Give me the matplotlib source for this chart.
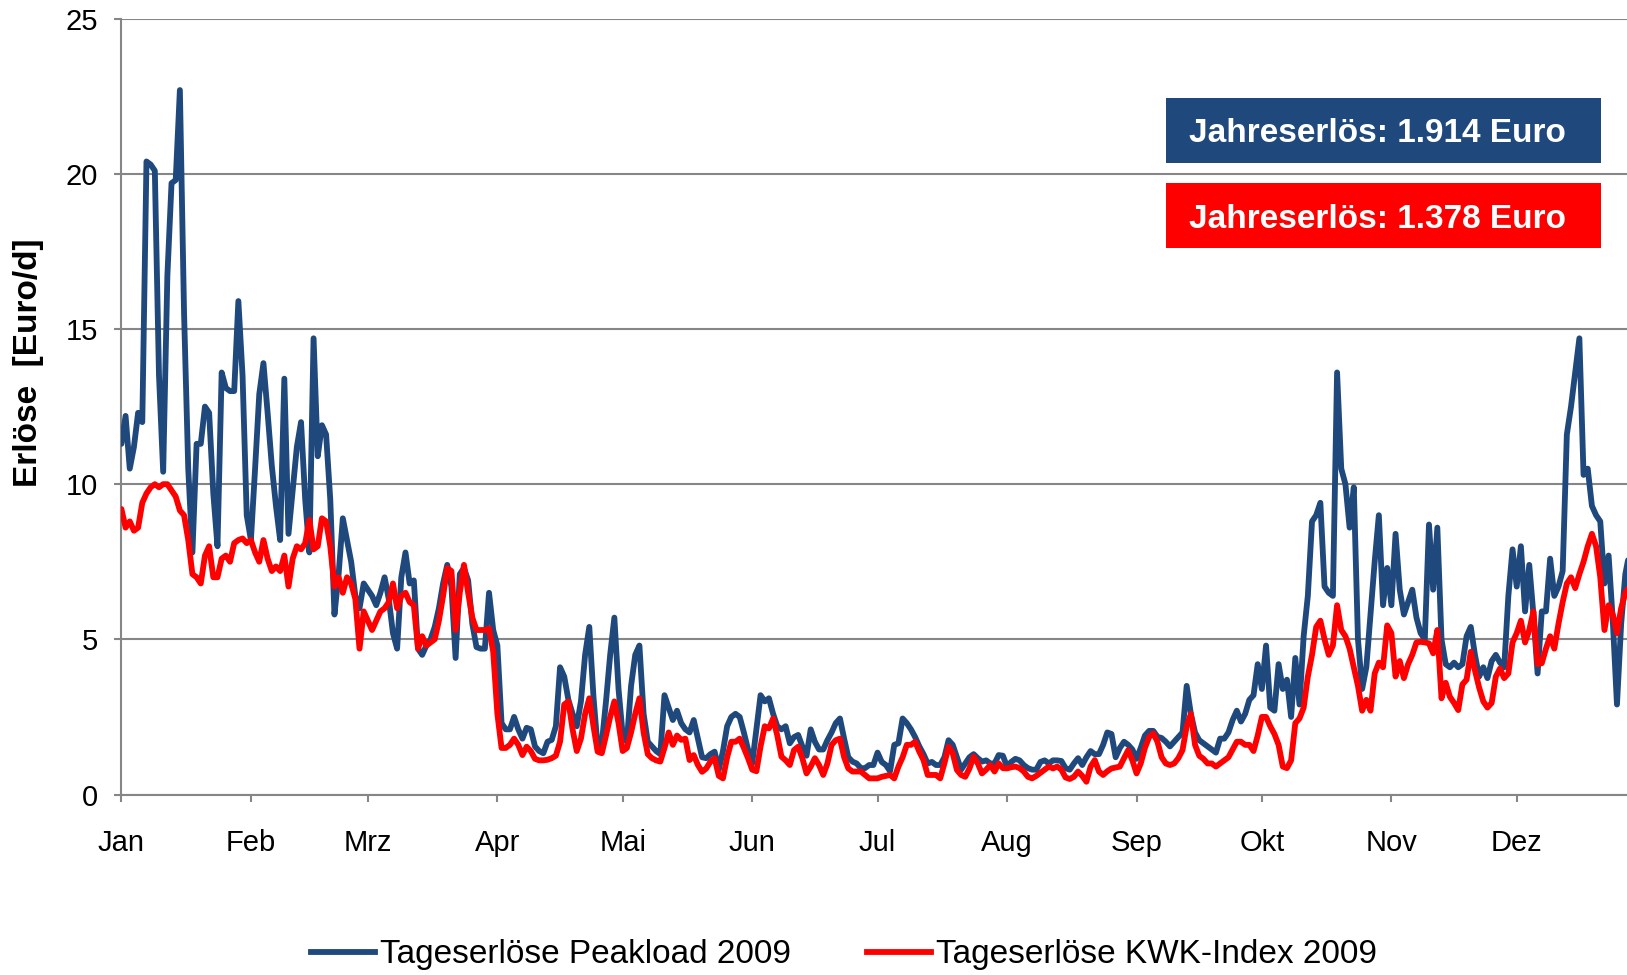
import numpy as np
import pandas as pd
import matplotlib
matplotlib.use("Agg")
import matplotlib.pyplot as plt
import matplotlib.dates as mdates
from matplotlib.patches import Rectangle
from matplotlib.lines import Line2D

start = "2009-01-01"

# Tageserlöse Peakload 2009 (Euro/d), daily from 1 Jan
peakload = [
    11.3, 12.2, 10.5, 11.2, 12.3, 12.0, 20.4, 20.3, 20.1, 13.5,
    10.4, 16.7, 19.7, 19.8, 22.7, 15.5, 10.5, 7.8, 11.3, 11.3,
    12.5, 12.3, 9.7, 8.0, 13.6, 13.1, 13.0, 13.0, 15.9, 13.5,
    9.0, 8.2, 10.5, 12.9, 13.9, 12.3, 10.6, 9.3, 8.2, 13.4,
    8.4, 9.8, 11.2, 12.0, 9.5, 7.8, 14.7, 10.9, 11.9, 11.6,
    9.5, 5.8, 7.1, 8.9, 8.2, 7.5, 6.4, 6.0, 6.8, 6.6,
    6.4, 6.1, 6.5, 7.0, 6.3, 5.2, 4.7, 7.0, 7.8, 6.8,
    6.9, 4.7, 4.5, 4.8, 5.0, 5.4, 6.0, 6.8, 7.4, 6.7,
    4.4, 7.1, 7.3, 6.9, 5.5, 4.75, 4.7, 4.7, 6.5, 5.3,
    4.8, 2.3, 2.1, 2.1, 2.5, 2.1, 1.8, 2.15, 2.1, 1.55,
    1.4, 1.33, 1.7, 1.76, 2.2, 4.1, 3.8, 3.05, 2.6, 2.2,
    3.0, 4.5, 5.4, 3.15, 1.5, 1.65, 3.0, 4.5, 5.7, 3.4,
    1.9, 1.7, 3.5, 4.5, 4.8, 2.6, 1.7, 1.55, 1.4, 1.3,
    3.2, 2.8, 2.4, 2.7, 2.3, 2.1, 2.0, 2.4, 1.8, 1.2,
    1.17, 1.3, 1.38, 0.8, 1.4, 2.2, 2.5, 2.6, 2.5, 2.0,
    1.45, 1.0, 2.1, 3.2, 3.0, 3.1, 2.6, 2.2, 2.1, 2.2,
    1.65, 1.85, 1.92, 1.55, 1.25, 2.1, 1.7, 1.45, 1.45, 1.75,
    2.0, 2.3, 2.45, 1.8, 1.2, 1.06, 1.0, 0.85, 0.85, 0.95,
    0.95, 1.35, 1.05, 0.95, 0.75, 1.6, 1.65, 2.45, 2.3, 2.1,
    1.85, 1.55, 1.3, 1.0, 1.05, 0.95, 0.95, 1.2, 1.75, 1.6,
    1.2, 0.8, 1.0, 1.2, 1.3, 1.17, 1.06, 1.1, 1.0, 1.0,
    1.27, 1.25, 0.9, 1.05, 1.15, 1.1, 0.95, 0.85, 0.8, 0.8,
    1.05, 1.1, 1.0, 1.1, 1.1, 1.08, 0.85, 0.8, 1.0, 1.17,
    0.95, 1.2, 1.4, 1.3, 1.3, 1.6, 2.0, 1.95, 1.2, 1.5,
    1.7, 1.6, 1.45, 1.15, 1.5, 1.9, 2.05, 2.05, 1.86, 1.82,
    1.7, 1.55, 1.7, 1.85, 2.0, 3.5, 2.6, 2.0, 1.75, 1.65,
    1.55, 1.45, 1.35, 1.8, 1.8, 2.0, 2.4, 2.7, 2.35, 2.6,
    3.05, 3.2, 4.2, 3.4, 4.8, 2.8, 2.7, 4.2, 3.4, 3.7,
    2.5, 4.4, 2.9, 5.1, 6.4, 8.8, 9.0, 9.4, 6.7, 6.5,
    6.4, 13.6, 10.5, 10.0, 8.6, 9.9, 5.0, 3.4, 4.1, 5.8,
    7.5, 9.0, 6.1, 7.3, 6.1, 8.4, 6.6, 5.8, 6.2, 6.6,
    5.7, 5.2, 5.0, 8.7, 6.6, 8.6, 5.0, 4.2, 4.1, 4.25,
    4.1, 4.2, 5.1, 5.4, 4.5, 3.8, 4.1, 3.75, 4.3, 4.5,
    4.25, 4.1, 6.4, 7.9, 6.7, 8.0, 5.9, 7.4, 5.8, 3.9,
    5.9, 5.9, 7.6, 6.4, 6.7, 7.2, 11.6, 12.5, 13.6, 14.7,
    10.3, 10.5, 9.3, 9.0, 8.8, 6.8, 7.7, 5.6, 2.9, 5.5,
    7.1, 7.8,
]

# Tageserlöse KWK-Index 2009 (Euro/d), daily from 1 Jan
kwk_index = [
    9.2, 8.6, 8.8, 8.5, 8.6, 9.4, 9.7, 9.9, 10.0, 9.9,
    10.0, 10.0, 9.8, 9.6, 9.15, 9.0, 8.2, 7.1, 7.0, 6.8,
    7.7, 8.0, 7.0, 7.0, 7.6, 7.7, 7.5, 8.1, 8.2, 8.25,
    8.1, 8.2, 7.8, 7.5, 8.2, 7.6, 7.2, 7.35, 7.2, 7.7,
    6.7, 7.6, 8.0, 7.9, 8.1, 8.85, 7.9, 8.0, 8.9, 8.8,
    8.0, 6.7, 7.0, 6.5, 7.0, 6.8, 6.3, 4.7, 5.9, 5.6,
    5.3, 5.6, 5.9, 6.0, 6.2, 6.8, 6.0, 6.4, 6.5, 6.2,
    6.1, 4.7, 5.1, 4.8, 4.9, 5.0, 5.6, 6.4, 7.3, 7.2,
    5.3, 6.5, 7.4, 6.5, 5.7, 5.3, 5.3, 5.3, 5.35, 4.6,
    2.6, 1.5, 1.5, 1.6, 1.8, 1.6, 1.27, 1.54, 1.4, 1.15,
    1.1, 1.1, 1.12, 1.17, 1.25, 1.7, 2.9, 3.0, 2.1, 1.4,
    1.8, 2.6, 3.1, 2.2, 1.38, 1.33, 1.9, 2.5, 3.0, 2.3,
    1.4, 1.5, 2.0, 2.6, 3.1, 2.0, 1.3, 1.17, 1.1, 1.06,
    1.5, 2.0, 1.6, 1.9, 1.76, 1.8, 1.11, 1.27, 0.95, 0.73,
    0.84, 1.06, 1.17, 0.6, 0.52, 1.2, 1.7, 1.7, 1.8, 1.5,
    1.17, 0.8, 0.75, 1.55, 2.2, 2.13, 2.45, 1.9, 1.22, 1.1,
    0.95, 1.43, 1.54, 1.17, 0.68, 0.9, 1.17, 0.95, 0.63, 1.0,
    1.6, 1.75, 1.8, 1.2, 0.84, 0.74, 0.74, 0.74, 0.63, 0.52,
    0.52, 0.52, 0.57, 0.6, 0.63, 0.52, 0.9, 1.2, 1.6, 1.6,
    1.7, 1.38, 1.11, 0.63, 0.63, 0.63, 0.52, 1.0, 1.54, 1.33,
    0.79, 0.63, 0.57, 0.84, 1.22, 1.0, 0.68, 0.8, 0.95, 0.74,
    1.0, 0.85, 0.84, 0.88, 0.9, 0.85, 0.74, 0.57, 0.52, 0.6,
    0.7, 0.8, 0.9, 0.84, 0.9, 0.8, 0.55, 0.5, 0.57, 0.74,
    0.6, 0.41, 0.9, 1.11, 0.74, 0.63, 0.75, 0.84, 0.87, 0.9,
    1.17, 1.43, 1.1, 0.68, 1.0, 1.5, 1.85, 1.97, 1.7, 1.2,
    1.0, 0.95, 1.0, 1.17, 1.43, 2.2, 2.6, 1.6, 1.25, 1.15,
    1.0, 1.0, 0.9, 1.0, 1.1, 1.2, 1.45, 1.7, 1.7, 1.6,
    1.6, 1.4, 1.9, 2.5, 2.5, 2.2, 1.95, 1.6, 0.9, 0.85,
    1.1, 2.3, 2.45, 2.8, 3.8, 4.5, 5.4, 5.6, 5.0, 4.5,
    4.8, 6.1, 5.3, 5.1, 4.7, 4.1, 3.5, 2.7, 3.05, 2.7,
    3.9, 4.25, 4.1, 5.45, 5.2, 3.8, 4.3, 3.75, 4.2, 4.5,
    4.9, 4.92, 4.9, 4.87, 4.55, 5.3, 3.1, 3.6, 3.15, 2.95,
    2.72, 3.55, 3.7, 4.6, 4.0, 3.45, 3.0, 2.8, 2.95, 3.8,
    4.06, 3.75, 3.9, 4.9, 5.2, 5.6, 4.9, 5.3, 5.9, 4.2,
    4.23, 4.7, 5.1, 4.7, 5.5, 6.2, 6.8, 7.0, 6.65, 7.1,
    7.5, 8.0, 8.4, 8.0, 7.0, 5.3, 6.1, 5.8, 5.2, 6.0,
    6.5, 6.7,
]

month_labels = ["Jan", "Feb", "Mrz", "Apr", "Mai", "Jun",
                "Jul", "Aug", "Sep", "Okt", "Nov", "Dez"]
y_ticks = [0, 5, 10, 15, 20, 25]
series_labels = ["Tageserlöse Peakload 2009", "Tageserlöse KWK-Index 2009"]
box_texts = ["Jahreserlös: 1.914 Euro", "Jahreserlös: 1.378 Euro"]
y_label = "Erlöse  [Euro/d]"

BLUE = "#1F497D"
RED = "#FF0000"
GRID = "#868686"

plt.rcParams["font.family"] = ["Liberation Sans", "DejaVu Sans"]

W, H = 1627, 975
fig = plt.figure(figsize=(W / 100, H / 100), dpi=100)
ax = fig.add_axes([121.4 / W, 1 - 794.5 / H, 1 - 121.4 / W, (794.5 - 18.7) / H])

dates = pd.date_range(start, periods=len(peakload), freq="D")
lw = 4.2
l1, = ax.plot(dates, peakload, color=BLUE, lw=lw, solid_joinstyle="round",
              solid_capstyle="round", zorder=3)
l2, = ax.plot(dates, kwk_index, color=RED, lw=lw, solid_joinstyle="round",
              solid_capstyle="round", zorder=4)

x0 = mdates.date2num(pd.Timestamp(start))
ax.set_xlim(x0, x0 + 360.4)
ax.set_ylim(0, 25)

month_starts = pd.date_range(start, periods=12, freq="MS")
ax.set_xticks(month_starts)
ax.set_xticklabels(month_labels)
ax.set_yticks(y_ticks)
ax.set_yticklabels([str(v) for v in y_ticks])

ax.yaxis.grid(True, color=GRID, lw=1.5)
ax.set_axisbelow(True)
for s in ["top", "right"]:
    ax.spines[s].set_visible(False)
for s in ["left", "bottom"]:
    ax.spines[s].set_color(GRID)
    ax.spines[s].set_linewidth(1.5)

ax.tick_params(axis="x", direction="out", length=5, width=1.5, color=GRID,
               pad=20, labelsize=21)
ax.tick_params(axis="y", direction="out", length=5, width=1.5, color=GRID,
               pad=12, labelsize=21)

fig.text(29 / W, 1 - 363 / H, y_label, rotation=90, fontsize=24,
         fontweight="bold", ha="center", va="center")

# annual revenue boxes
box_colors = [BLUE, RED]
box_tops = [97.5, 182.5]
for txt, col, top in zip(box_texts, box_colors, box_tops):
    fig.add_artist(Rectangle((1166 / W, 1 - (top + 65.5) / H), 435 / W, 65.5 / H,
                             transform=fig.transFigure, facecolor=col,
                             edgecolor="none", zorder=5))
    fig.text(1189 / W, 1 - (top + 36.5) / H, txt, color="white", fontsize=24,
             fontweight="bold", ha="left", va="center", zorder=6)

handles = [Line2D([], [], color=BLUE, lw=lw), Line2D([], [], color=RED, lw=lw)]
fig.legend(handles, series_labels, loc="center",
           bbox_to_anchor=(844 / W, 1 - 955 / H), ncol=2, frameon=False,
           fontsize=24, handlelength=1.9, handletextpad=0.15,
           columnspacing=2.3)

fig.savefig("out.png", dpi=100)
